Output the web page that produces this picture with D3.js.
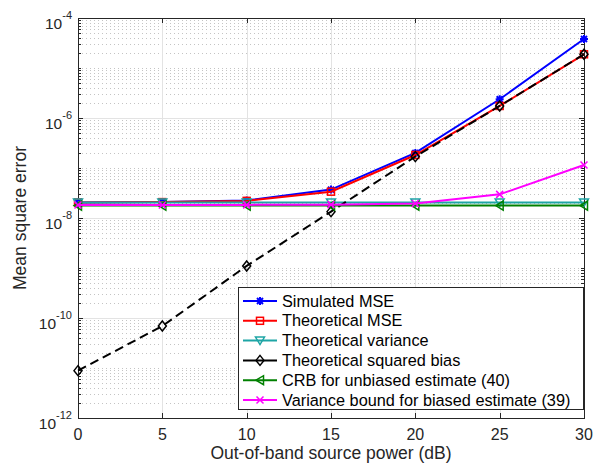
<!DOCTYPE html>
<html>
<head>
<meta charset="utf-8">
<script src="https://cdn.jsdelivr.net/npm/d3@7"></script>
<style>
  body { margin: 0; background: #fff; }
  text { font-family: "Liberation Sans", Arial, Helvetica, sans-serif; fill: #262626; }
</style>
</head>
<body>
<div id="chart"></div>
<script>
var width = 607;
var height = 465;
var margin = { top: 18, right: 23, bottom: 47, left: 78 };

// data
var powerDb = [0, 5, 10, 15, 20, 25, 30];
var simulatedMse = [2.05e-8, 2.1e-8, 2.25e-8, 3.7e-8, 2.0e-7, 2.37e-6, 3.8e-5];
var theoreticalMse = [2.05e-8, 2.08e-8, 2.2e-8, 3.36e-8, 1.82e-7, 1.74e-6, 1.88e-5];
var theoreticalVar = [2.05e-8, 2.05e-8, 2.05e-8, 2.05e-8, 2.05e-8, 2.05e-8, 2.05e-8];
var squaredBias = [8.85e-12, 6.9e-11, 1.1e-9, 1.34e-8, 1.69e-7, 1.74e-6, 1.88e-5];
var crbUnbiased = [1.77e-8, 1.77e-8, 1.77e-8, 1.77e-8, 1.77e-8, 1.77e-8, 1.77e-8];
var varBoundBiased = [1.82e-8, 1.82e-8, 1.83e-8, 1.85e-8, 1.95e-8, 2.97e-8, 1.15e-7];

var xTicks = [0, 5, 10, 15, 20, 25, 30];
var yTickExps = [-12, -10, -8, -6, -4];

var series = [
  { name: "Simulated MSE", values: simulatedMse, color: "#0000ff", marker: "star" },
  { name: "Theoretical MSE", values: theoreticalMse, color: "#ff0000", marker: "square" },
  { name: "Theoretical variance", values: theoreticalVar, color: "#1ea5a5", marker: "tridown" },
  { name: "Theoretical squared bias", values: squaredBias, color: "#000000", marker: "diamond", dash: "9,5" },
  { name: "CRB for unbiased estimate (40)", values: crbUnbiased, color: "#008000", marker: "trileft" },
  { name: "Variance bound for biased estimate (39)", values: varBoundBiased, color: "#ff00ff", marker: "x" }
];

var svg = d3.select("#chart")
  .append("svg")
  .attr("width", width)
  .attr("height", height);

var iw = width - margin.left - margin.right;
var ih = height - margin.top - margin.bottom;

var x = d3.scaleLinear().domain([0, 30]).range([margin.left, margin.left + iw]);
var y = d3.scaleLog().domain([1e-12, 1e-4]).range([margin.top + ih, margin.top]);

var axisColor = "#262626";

// minor values (everything between the labelled decades)
var minorVals = [];
for (var e = -12; e < -4; e++) {
  for (var k = 1; k <= 9; k++) {
    var v = k * Math.pow(10, e);
    if (k === 1 && e % 2 === 0) continue;
    minorVals.push(v);
  }
}

var grid = svg.append("g");
grid.selectAll("line.minor")
  .data(minorVals)
  .enter().append("line")
  .attr("x1", margin.left).attr("x2", margin.left + iw)
  .attr("y1", function(d) { return Math.round(y(d)) + 0.5; })
  .attr("y2", function(d) { return Math.round(y(d)) + 0.5; })
  .attr("stroke", "#c4c4c4")
  .attr("stroke-width", 1)
  .attr("stroke-dasharray", "1,3");

grid.selectAll("line.majory")
  .data(yTickExps)
  .enter().append("line")
  .attr("x1", margin.left).attr("x2", margin.left + iw)
  .attr("y1", function(d) { return Math.round(y(Math.pow(10, d))) + 0.5; })
  .attr("y2", function(d) { return Math.round(y(Math.pow(10, d))) + 0.5; })
  .attr("stroke", "#e3e3e3")
  .attr("stroke-width", 1);

grid.selectAll("line.majorx")
  .data(xTicks)
  .enter().append("line")
  .attr("x1", function(d) { return Math.round(x(d)) + 0.5; })
  .attr("x2", function(d) { return Math.round(x(d)) + 0.5; })
  .attr("y1", margin.top).attr("y2", margin.top + ih)
  .attr("stroke", "#e3e3e3")
  .attr("stroke-width", 1);

// axes box + ticks
var axes = svg.append("g").attr("stroke", axisColor).attr("stroke-width", 1);
axes.append("rect")
  .attr("x", margin.left + 0.5).attr("y", margin.top + 0.5)
  .attr("width", iw).attr("height", ih)
  .attr("fill", "none");

xTicks.forEach(function(t) {
  var px = Math.round(x(t)) + 0.5;
  axes.append("line").attr("x1", px).attr("x2", px).attr("y1", margin.top + ih).attr("y2", margin.top + ih - 5);
  axes.append("line").attr("x1", px).attr("x2", px).attr("y1", margin.top).attr("y2", margin.top + 5);
});
yTickExps.forEach(function(t) {
  var py = Math.round(y(Math.pow(10, t))) + 0.5;
  axes.append("line").attr("x1", margin.left).attr("x2", margin.left + 5).attr("y1", py).attr("y2", py);
  axes.append("line").attr("x1", margin.left + iw).attr("x2", margin.left + iw - 5).attr("y1", py).attr("y2", py);
});
minorVals.forEach(function(v) {
  var py = Math.round(y(v)) + 0.5;
  axes.append("line").attr("x1", margin.left).attr("x2", margin.left + 3).attr("y1", py).attr("y2", py);
  axes.append("line").attr("x1", margin.left + iw).attr("x2", margin.left + iw - 3).attr("y1", py).attr("y2", py);
});

// tick labels
svg.selectAll("text.xt")
  .data(xTicks)
  .enter().append("text")
  .attr("x", function(d) { return x(d); })
  .attr("y", margin.top + ih + 22)
  .attr("text-anchor", "middle")
  .style("font-size", "16px")
  .text(function(d) { return d; });

var yl = svg.selectAll("text.yt")
  .data(yTickExps)
  .enter().append("text")
  .attr("x", margin.left - 6)
  .attr("y", function(d) { return y(Math.pow(10, d)) + 10.5; })
  .attr("text-anchor", "end")
  .style("font-size", "15.5px");
yl.append("tspan").text("10");
yl.append("tspan")
  .attr("dy", -10)
  .style("font-size", "11px")
  .text(function(d) { return "-" + Math.abs(d); });

// axis labels
svg.append("text")
  .attr("x", margin.left + iw / 2)
  .attr("y", 459)
  .attr("text-anchor", "middle")
  .style("font-size", "17.5px")
  .text("Out-of-band source power (dB)");

svg.append("text")
  .attr("transform", "translate(26," + (margin.top + ih / 2) + ") rotate(-90)")
  .attr("text-anchor", "middle")
  .style("font-size", "17.5px")
  .text("Mean square error");

// markers
function drawMarker(g, type, color, cx, cy) {
  var s = 4;
  if (type === "star") {
    g.append("path")
      .attr("d", "M" + (cx - s) + "," + cy + "L" + (cx + s) + "," + cy +
        "M" + cx + "," + (cy - s) + "L" + cx + "," + (cy + s) +
        "M" + (cx - 3) + "," + (cy - 3) + "L" + (cx + 3) + "," + (cy + 3) +
        "M" + (cx - 3) + "," + (cy + 3) + "L" + (cx + 3) + "," + (cy - 3))
      .attr("stroke", color).attr("stroke-width", 2).attr("fill", "none");
  } else if (type === "square") {
    g.append("rect").attr("x", cx - 3.5).attr("y", cy - 3.5).attr("width", 7).attr("height", 7)
      .attr("stroke", color).attr("stroke-width", 1.5).attr("fill", "none");
  } else if (type === "tridown") {
    g.append("path").attr("d", "M" + (cx - 4.5) + "," + (cy - 3.5) + "L" + (cx + 4.5) + "," + (cy - 3.5) + "L" + cx + "," + (cy + 4) + "Z")
      .attr("stroke", color).attr("stroke-width", 1.5).attr("fill", "none");
  } else if (type === "diamond") {
    g.append("path").attr("d", "M" + cx + "," + (cy - 5) + "L" + (cx + 4) + "," + cy + "L" + cx + "," + (cy + 5) + "L" + (cx - 4) + "," + cy + "Z")
      .attr("stroke", color).attr("stroke-width", 1.5).attr("fill", "none");
  } else if (type === "trileft") {
    g.append("path").attr("d", "M" + (cx - 4) + "," + cy + "L" + (cx + 3.5) + "," + (cy - 4.5) + "L" + (cx + 3.5) + "," + (cy + 4.5) + "Z")
      .attr("stroke", color).attr("stroke-width", 1.5).attr("fill", "none");
  } else if (type === "x") {
    g.append("path").attr("d", "M" + (cx - 3.5) + "," + (cy - 3.5) + "L" + (cx + 3.5) + "," + (cy + 3.5) + "M" + (cx - 3.5) + "," + (cy + 3.5) + "L" + (cx + 3.5) + "," + (cy - 3.5))
      .attr("stroke", color).attr("stroke-width", 1.5).attr("fill", "none");
  }
}

var line = d3.line()
  .x(function(d, i) { return x(powerDb[i]); })
  .y(function(d) { return y(d); });

var plot = svg.append("g");
series.forEach(function(s) {
  plot.append("path")
    .datum(s.values)
    .attr("d", line)
    .attr("fill", "none")
    .attr("stroke", s.color)
    .attr("stroke-width", 2)
    .attr("stroke-dasharray", s.dash || null);
  s.values.forEach(function(v, i) {
    drawMarker(plot, s.marker, s.color, x(powerDb[i]), y(v));
  });
});

// legend
var lg = svg.append("g");
var lx = 238, ly = 287, lw = 345, lh = 122;
lg.append("rect")
  .attr("x", lx + 0.5).attr("y", ly + 0.5)
  .attr("width", lw).attr("height", lh)
  .attr("fill", "#fff").attr("stroke", axisColor).attr("stroke-width", 1);
series.forEach(function(s, i) {
  var cy = ly + 14 + i * 19.8;
  lg.append("line")
    .attr("x1", lx + 5).attr("x2", lx + 39)
    .attr("y1", cy).attr("y2", cy)
    .attr("stroke", s.color).attr("stroke-width", 2);
  drawMarker(lg, s.marker, s.color, lx + 22, cy);
  lg.append("text")
    .attr("x", lx + 44)
    .attr("y", cy + 5.5)
    .style("font-size", "16.3px")
    .style("fill", "#000")
    .text(s.name);
});
</script>
</body>
</html>
